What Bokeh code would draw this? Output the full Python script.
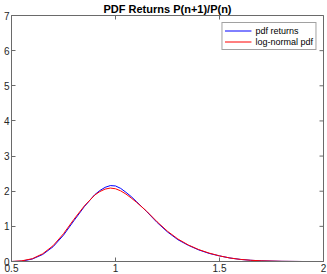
import math
from bokeh.plotting import figure
from bokeh.models import Range1d, FixedTicker, Legend, LegendItem
from bokeh.embed import file_html
from bokeh.resources import INLINE

# x positions (price ratio P(n+1)/P(n))
x_vals = [0.50, 0.55, 0.60, 0.65, 0.70, 0.75, 0.80, 0.85, 0.90, 0.925, 0.95,
          0.975, 1.00, 1.025, 1.05, 1.075, 1.10, 1.15, 1.20, 1.25, 1.30, 1.35,
          1.40, 1.45, 1.50, 1.55, 1.60, 1.65, 1.70, 1.80, 1.90, 2.00]
# empirical pdf of returns (blue)
pdf_returns = [0.00, 0.01, 0.07, 0.20, 0.42, 0.75, 1.16, 1.56, 1.90, 2.02, 2.11,
               2.16, 2.15, 2.08, 1.97, 1.85, 1.71, 1.42, 1.11, 0.84, 0.62, 0.46,
               0.33, 0.23, 0.16, 0.10, 0.06, 0.035, 0.02, 0.005, 0.0, 0.0]
# fitted log-normal pdf (red)
lognormal_pdf = [0.00, 0.02, 0.08, 0.22, 0.45, 0.79, 1.20, 1.58, 1.89, 1.99, 2.06,
                 2.09, 2.07, 2.01, 1.92, 1.81, 1.69, 1.43, 1.13, 0.86, 0.64, 0.47,
                 0.34, 0.24, 0.16, 0.10, 0.06, 0.035, 0.02, 0.005, 0.0, 0.0]
x_ticks = [0.5, 1, 1.5, 2]
y_ticks = [0, 1, 2, 3, 4, 5, 6, 7]
x_tick_labels = {0.5: "0.5", 1: "1", 1.5: "1.5", 2: "2"}
x_min, x_max = 0.5, 2
y_min, y_max = 0, 7

FONT = "Liberation Sans"
TXT = "#262626"
LINE = "#6a6a6a"

p = figure(width=327, height=274, output_backend="svg", toolbar_location=None,
           x_range=Range1d(x_min, x_max), y_range=Range1d(y_min, y_max),
           title="PDF Returns P(n+1)/P(n)",
           min_border_left=1, min_border_right=4, min_border_top=0, min_border_bottom=0)
p.title.align = "center"
p.title.text_font = FONT
p.title.text_font_size = "11px"
p.title.text_font_style = "bold"
p.title.text_color = "#000000"
p.title.standoff = 1
p.xgrid.visible = False
p.ygrid.visible = False
p.outline_line_color = LINE
p.outline_line_width = 1
p.background_fill_color = "white"
p.border_fill_color = "white"

for ax, ticks in ((p.xaxis[0], x_ticks), (p.yaxis[0], y_ticks)):
    ax.ticker = FixedTicker(ticks=ticks)
    ax.major_tick_in = 4
    ax.major_tick_out = 0
    ax.minor_tick_line_color = None
    ax.axis_line_color = LINE
    ax.major_tick_line_color = LINE
    ax.major_label_text_font = FONT
    ax.major_label_text_color = TXT
    ax.major_label_text_font_size = "10px"
    ax.major_label_standoff = 2
p.xaxis[0].major_label_overrides = x_tick_labels

# mirrored inward ticks on top and right edges (half of each dash is clipped by the frame)
p.scatter(x_ticks, [y_max] * len(x_ticks), marker="dash", size=8, angle=math.pi / 2,
          line_color=LINE, line_width=1)
p.scatter([x_max] * len(y_ticks), y_ticks, marker="dash", size=8,
          line_color=LINE, line_width=1)

r1 = p.line(x_vals, pdf_returns, line_color="#0000ff", line_width=1)
r2 = p.line(x_vals, lognormal_pdf, line_color="#ff0000", line_width=1)

legend = Legend(items=[LegendItem(label="pdf returns", renderers=[r1]),
                       LegendItem(label="log-normal pdf", renderers=[r2])],
                location="top_right")
legend.label_text_font = FONT
legend.label_text_font_size = "9px"
legend.label_text_color = "#000000"
legend.glyph_width = 27
legend.glyph_height = 11
legend.label_height = 11
legend.label_standoff = 4
legend.spacing = 0
legend.padding = 2
legend.margin = 7
legend.border_line_color = "#444444"
legend.border_line_width = 1
legend.background_fill_alpha = 1
p.add_layout(legend)

open("out.html", "w").write(file_html(p, INLINE))
